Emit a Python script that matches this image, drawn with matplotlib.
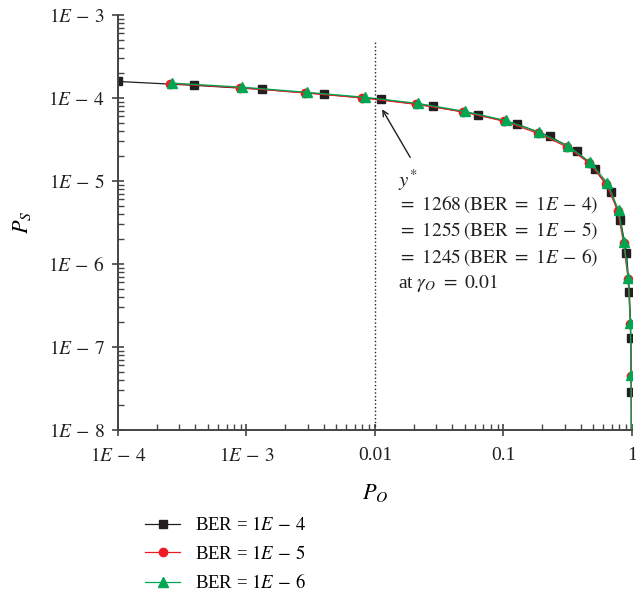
import matplotlib
matplotlib.use("Agg")
import matplotlib.pyplot as plt
from matplotlib.ticker import FixedLocator, LogLocator, NullFormatter

plt.rcParams['font.family'] = ['Liberation Serif', 'DejaVu Serif']
plt.rcParams['mathtext.fontset'] = 'stix'

# outage probability P_O and success probability P_S for each BER target
po_ber4 = [1e-4, 3.9e-4, 1.32e-3, 3.98e-3, 0.0112, 0.0282, 0.0631, 0.127, 0.229,
           0.371, 0.512, 0.693, 0.815, 0.908, 0.957, 0.982, 0.992, 1.0]
ps_ber4 = [1.58e-4, 1.42e-4, 1.27e-4, 1.11e-4, 9.6e-5, 7.9e-5, 6.3e-5, 4.85e-5, 3.45e-5,
           2.3e-5, 1.4e-5, 7.4e-6, 3.4e-6, 1.36e-6, 4.6e-7, 1.28e-7, 2.9e-8, 1e-12]

po_ber5 = [2.55e-4, 8.9e-4, 2.85e-3, 8.0e-3, 0.0208, 0.0485, 0.101, 0.186, 0.313,
           0.466, 0.634, 0.776, 0.862, 0.936, 0.973, 0.987, 1.0]
ps_ber5 = [1.49e-4, 1.33e-4, 1.15e-4, 1.0e-4, 8.4e-5, 6.8e-5, 5.25e-5, 3.75e-5, 2.57e-5,
           1.64e-5, 9.2e-6, 4.35e-6, 1.78e-6, 6.5e-7, 1.88e-7, 4.45e-8, 1e-12]

po_ber6 = [2.63e-4, 9.2e-4, 2.95e-3, 8.3e-3, 0.0215, 0.0499, 0.104, 0.191, 0.321,
           0.476, 0.646, 0.787, 0.869, 0.94, 0.975, 0.988, 1.0]
ps_ber6 = [1.51e-4, 1.35e-4, 1.17e-4, 1.02e-4, 8.6e-5, 6.9e-5, 5.35e-5, 3.85e-5, 2.62e-5,
           1.67e-5, 9.4e-6, 4.45e-6, 1.82e-6, 6.7e-7, 1.93e-7, 4.55e-8, 1e-12]

x_ticks = [1e-4, 1e-3, 1e-2, 1e-1, 1]
x_ticklabels = [r"$1E\,-\,4$", r"$1E\,-\,3$", "0.01", "0.1", "1"]
y_ticks = [1e-8, 1e-7, 1e-6, 1e-5, 1e-4, 1e-3]
y_ticklabels = [r"$1E\,-\,8$", r"$1E\,-\,7$", r"$1E\,-\,6$",
                r"$1E\,-\,5$", r"$1E\,-\,4$", r"$1E\,-\,3$"]

gamma_o = 0.01
gamma_star = [1268, 1255, 1245]
ber_exp = [4, 5, 6]

fig = plt.figure(figsize=(6.36, 5.98), dpi=100)
ax = fig.add_axes([0.1855, 0.281, 0.808, 0.694])

c_blk = '#231f20'
c_red = '#ec1c24'
c_grn = '#00a651'

ax.plot(po_ber4, ps_ber4, '-', color=c_blk, lw=0.9, marker='s', ms=6,
        markevery=slice(0, -1), label=r"BER = $1E\,-\,4$")
ax.plot(po_ber5, ps_ber5, '-', color=c_red, lw=0.9, marker='o', ms=6,
        markevery=slice(0, -1), label=r"BER = $1E\,-\,5$")
ax.plot(po_ber6, ps_ber6, '-', color=c_grn, lw=0.9, marker='^', ms=7.5,
        markevery=slice(0, -1), label=r"BER = $1E\,-\,6$")

# threshold line at gamma_O
ax.plot([gamma_o, gamma_o], [1e-8, 4.7e-4], ls=':', color=c_blk, lw=1)

ax.annotate('', xy=(0.0111, 7.8e-5), xytext=(0.0193, 1.8e-5),
            arrowprops=dict(arrowstyle='->', color=c_blk, lw=1))

tx = 0.545
ax.text(tx, 0.602, r"$y^{*}$", transform=ax.transAxes, fontsize=15, va='center', color=c_blk)
for i, (g, b) in enumerate(zip(gamma_star, ber_exp)):
    ax.text(tx, 0.545 - i * 0.064, r"$=\ %d\,(\mathrm{BER}\ =\ 1E\,-\,%d)$" % (g, b),
            transform=ax.transAxes, fontsize=14, va='center', color=c_blk)
ax.text(tx, 0.354, r"at $\gamma_O\ =\ 0.01$", transform=ax.transAxes, fontsize=14,
        va='center', color=c_blk)

ax.set_xscale('log')
ax.set_yscale('log')
ax.set_xlim(1e-4, 1)
ax.set_ylim(1e-8, 1e-3)

ax.xaxis.set_major_locator(FixedLocator(x_ticks))
ax.set_xticklabels(x_ticklabels)
ax.yaxis.set_major_locator(FixedLocator(y_ticks))
ax.set_yticklabels(y_ticklabels)
ax.xaxis.set_minor_locator(LogLocator(base=10, subs=range(2, 10), numticks=20))
ax.yaxis.set_minor_locator(LogLocator(base=10, subs=range(2, 10), numticks=20))
ax.xaxis.set_minor_formatter(NullFormatter())
ax.yaxis.set_minor_formatter(NullFormatter())

ax.tick_params(which='major', direction='inout', length=9, width=1.2, color='#444444',
               labelsize=14, labelcolor=c_blk)
ax.tick_params(which='minor', direction='in', length=4, width=1, color='#444444')
ax.tick_params(axis='x', which='major', pad=8)
ax.tick_params(axis='y', which='major', pad=5)

for side in ['top', 'right']:
    ax.spines[side].set_visible(False)
for side in ['left', 'bottom']:
    ax.spines[side].set_color('#444444')
    ax.spines[side].set_linewidth(1.4)

ax.set_xlabel(r"$P_O$", fontsize=16, labelpad=12)
ax.set_ylabel(r"$P_S$", fontsize=16, labelpad=11)

fig.legend(loc='upper left', bbox_to_anchor=(0.213, 0.152), frameon=False, fontsize=13.5,
           handlelength=1.9, labelspacing=0.55, borderpad=0, handletextpad=0.8)

fig.savefig('out.png', dpi=100)
